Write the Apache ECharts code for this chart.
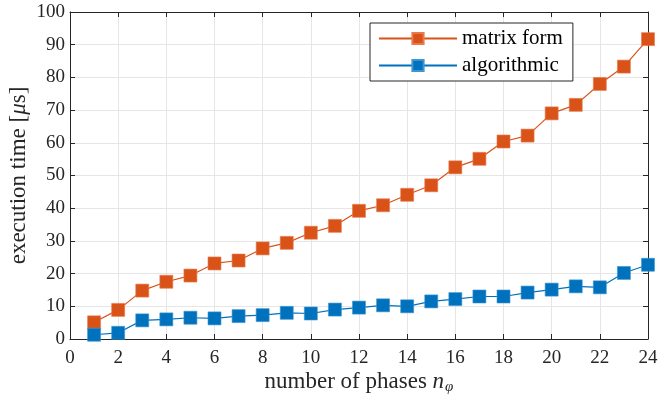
<!DOCTYPE html>
<html>
<head>
<meta charset="utf-8">
<script src="https://cdn.jsdelivr.net/npm/echarts@6/dist/echarts.min.js"></script>
<style>
  html, body { margin: 0; padding: 0; background: #fff; }
  #chart { width: 660px; height: 401px; }
</style>
</head>
<body>
<div id="chart"></div>
<script>
  // number of phases
  var phases = [1, 2, 3, 4, 5, 6, 7, 8, 9, 10, 11, 12, 13, 14, 15, 16, 17, 18, 19, 20, 21, 22, 23, 24];
  // execution time in microseconds
  var matrixForm = [5.1, 8.9, 14.8, 17.5, 19.4, 23.1, 24.0, 27.7, 29.4, 32.5, 34.6, 39.2, 40.9, 44.1, 47.0, 52.5, 55.1, 60.4, 62.2, 69.0, 71.6, 78.0, 83.3, 91.7];
  var algorithmic = [1.3, 1.9, 5.7, 6.0, 6.5, 6.3, 7.0, 7.3, 8.0, 7.8, 9.0, 9.6, 10.3, 10.0, 11.5, 12.2, 13.0, 13.0, 14.2, 15.1, 16.1, 15.8, 20.2, 22.7];

  var serif = 'Liberation Serif';
  var ink = '#262626';
  var orange = '#D95319', blue = '#0072BD';

  function pairs(ys) {
    return ys.map(function (v, i) { return [phases[i], v]; });
  }

  var chart = echarts.init(document.getElementById('chart'));

  // box: top and right axes only carry ticks
  var frame = {
    axisLine: { show: true, onZero: false, lineStyle: { color: ink, width: 1 } },
    axisTick: { show: true, inside: true, length: 5, lineStyle: { color: ink } },
    splitLine: { show: false },
    axisLabel: { show: false }
  };

  chart.setOption({
    animation: false,
    grid: { left: 70, right: 12, top: 12, bottom: 62, containLabel: false, outerBoundsMode: 'none' },
    xAxis: [{
      type: 'value', min: 0, max: 24, interval: 2, position: 'bottom',
      name: '{t|number of phases }{n|n}{s|φ}',
      nameLocation: 'middle', nameGap: 29, nameMoveOverlap: false,
      nameTextStyle: {
        rich: {
          t: { fontFamily: serif, fontSize: 23, color: ink },
          n: { fontFamily: serif, fontSize: 23, fontStyle: 'italic', color: ink },
          s: { fontFamily: serif, fontSize: 15, fontStyle: 'italic', color: ink, padding: [12, 0, 0, 1] }
        }
      },
      axisLine: { show: true, onZero: false, lineStyle: { color: ink, width: 1 } },
      axisTick: { show: true, inside: true, length: 5, lineStyle: { color: ink } },
      axisLabel: { fontFamily: serif, fontSize: 19, color: ink, margin: 10 },
      splitLine: { show: true, lineStyle: { color: '#e6e6e6', width: 1 } }
    }, Object.assign({ type: 'value', position: 'top', min: 0, max: 24, interval: 2 }, frame)],
    yAxis: [{
      type: 'value', min: 0, max: 100, interval: 10, position: 'left',
      name: '{t|execution time [}{m|μ}{t|s]}',
      nameLocation: 'middle', nameGap: 40, nameMoveOverlap: false,
      nameTextStyle: {
        rich: {
          t: { fontFamily: serif, fontSize: 23, color: ink },
          m: { fontFamily: serif, fontSize: 23, fontStyle: 'italic', color: ink }
        }
      },
      axisLine: { show: true, onZero: false, lineStyle: { color: ink, width: 1 } },
      axisTick: { show: true, inside: true, length: 5, lineStyle: { color: ink } },
      axisLabel: { fontFamily: serif, fontSize: 19, color: ink, margin: 5 },
      splitLine: { show: true, lineStyle: { color: '#e6e6e6', width: 1 } }
    }, Object.assign({ type: 'value', position: 'right', min: 0, max: 100, interval: 10 }, frame)],
    legend: {
      orient: 'vertical',
      left: 370, top: 23,
      padding: [5, 10, 5, 8],
      itemGap: 6,
      itemWidth: 78,
      itemHeight: 14,
      borderColor: ink, borderWidth: 1,
      backgroundColor: '#fff',
      textStyle: { fontFamily: serif, fontSize: 21, color: '#000' },
      data: ['matrix form', 'algorithmic']
    },
    series: [{
      name: 'matrix form', type: 'line',
      data: pairs(matrixForm),
      symbol: 'rect', symbolSize: 13,
      lineStyle: { color: orange, width: 1.2 },
      itemStyle: { color: orange, borderColor: '#e97a4e', borderWidth: 0.6 },
      z: 3
    }, {
      name: 'algorithmic', type: 'line',
      data: pairs(algorithmic),
      symbol: 'rect', symbolSize: 13,
      lineStyle: { color: blue, width: 1.2 },
      itemStyle: { color: blue, borderColor: '#3d95d1', borderWidth: 0.6 },
      z: 4
    }]
  });
</script>
</body>
</html>
